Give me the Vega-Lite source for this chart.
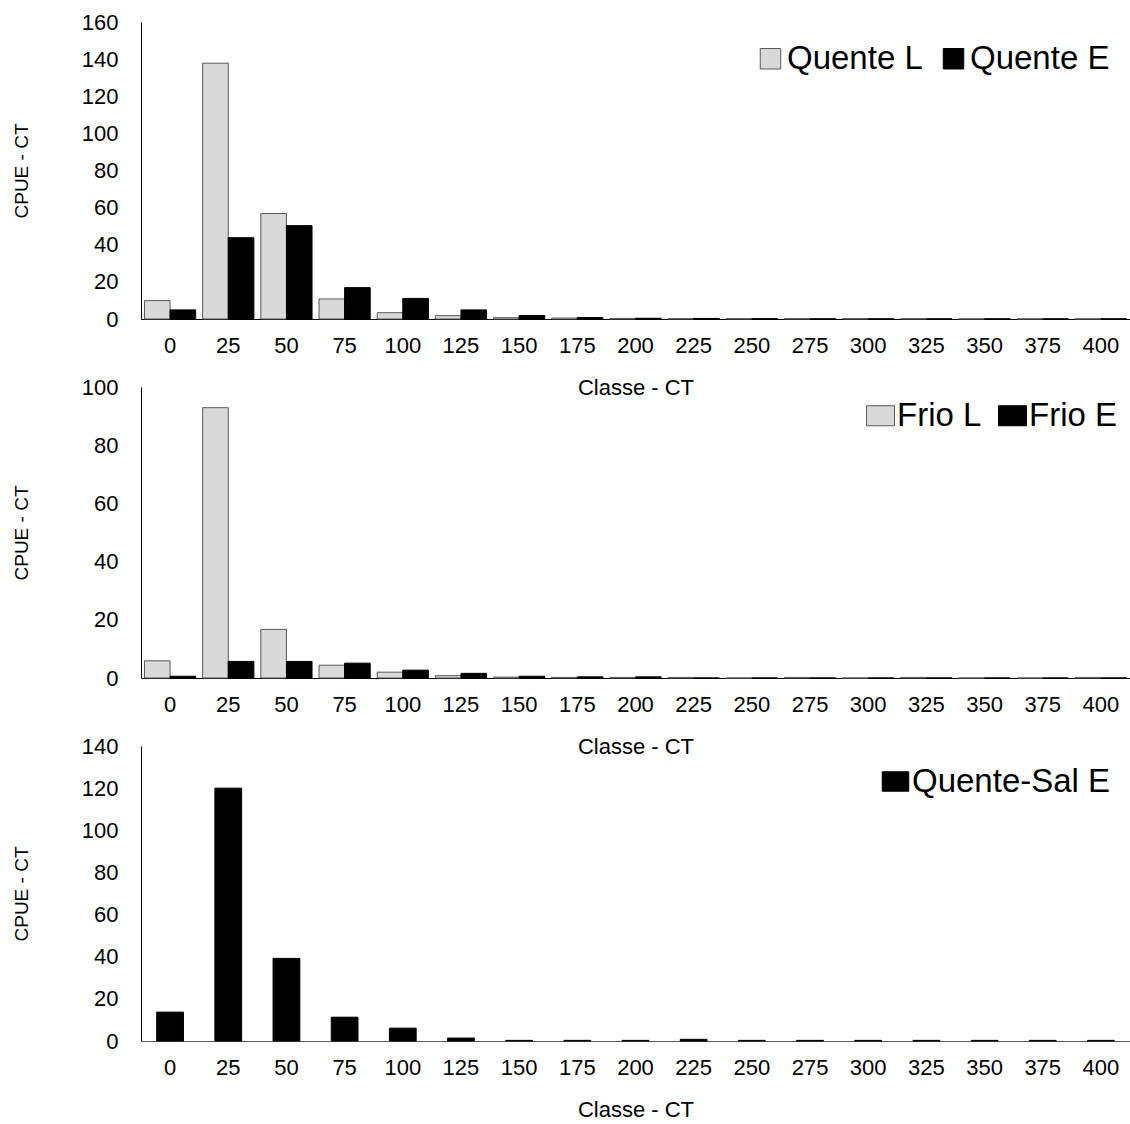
{
  "$schema": "https://vega.github.io/schema/vega-lite/v6.json",
  "background": "white",
  "padding": {"left": 12, "top": 11, "right": 0, "bottom": 0},
  "datasets": {
    "cpue": [
      {"painel": "Quente", "classe": 0, "serie": "Quente L", "cpue": 9.9},
      {"painel": "Quente", "classe": 0, "serie": "Quente E", "cpue": 4.9},
      {"painel": "Quente", "classe": 25, "serie": "Quente L", "cpue": 137.8},
      {"painel": "Quente", "classe": 25, "serie": "Quente E", "cpue": 43.8},
      {"painel": "Quente", "classe": 50, "serie": "Quente L", "cpue": 56.8},
      {"painel": "Quente", "classe": 50, "serie": "Quente E", "cpue": 50.3},
      {"painel": "Quente", "classe": 75, "serie": "Quente L", "cpue": 10.8},
      {"painel": "Quente", "classe": 75, "serie": "Quente E", "cpue": 16.9},
      {"painel": "Quente", "classe": 100, "serie": "Quente L", "cpue": 3.4},
      {"painel": "Quente", "classe": 100, "serie": "Quente E", "cpue": 11.1},
      {"painel": "Quente", "classe": 125, "serie": "Quente L", "cpue": 1.8},
      {"painel": "Quente", "classe": 125, "serie": "Quente E", "cpue": 4.9},
      {"painel": "Quente", "classe": 150, "serie": "Quente L", "cpue": 0.7},
      {"painel": "Quente", "classe": 150, "serie": "Quente E", "cpue": 1.9},
      {"painel": "Quente", "classe": 175, "serie": "Quente L", "cpue": 0.5},
      {"painel": "Quente", "classe": 175, "serie": "Quente E", "cpue": 0.8},
      {"painel": "Quente", "classe": 200, "serie": "Quente L", "cpue": 0.3},
      {"painel": "Quente", "classe": 200, "serie": "Quente E", "cpue": 0.4},
      {"painel": "Quente", "classe": 225, "serie": "Quente L", "cpue": 0.2},
      {"painel": "Quente", "classe": 225, "serie": "Quente E", "cpue": 0.3},
      {"painel": "Quente", "classe": 250, "serie": "Quente L", "cpue": 0.2},
      {"painel": "Quente", "classe": 250, "serie": "Quente E", "cpue": 0.2},
      {"painel": "Quente", "classe": 275, "serie": "Quente L", "cpue": 0.2},
      {"painel": "Quente", "classe": 275, "serie": "Quente E", "cpue": 0.1},
      {"painel": "Quente", "classe": 300, "serie": "Quente L", "cpue": 0.2},
      {"painel": "Quente", "classe": 300, "serie": "Quente E", "cpue": 0.1},
      {"painel": "Quente", "classe": 325, "serie": "Quente L", "cpue": 0.2},
      {"painel": "Quente", "classe": 325, "serie": "Quente E", "cpue": 0.1},
      {"painel": "Quente", "classe": 350, "serie": "Quente L", "cpue": 0.1},
      {"painel": "Quente", "classe": 350, "serie": "Quente E", "cpue": 0.1},
      {"painel": "Quente", "classe": 375, "serie": "Quente L", "cpue": 0.1},
      {"painel": "Quente", "classe": 375, "serie": "Quente E", "cpue": 0.1},
      {"painel": "Quente", "classe": 400, "serie": "Quente L", "cpue": 0.1},
      {"painel": "Quente", "classe": 400, "serie": "Quente E", "cpue": 0.1},

      {"painel": "Frio", "classe": 0, "serie": "Frio L", "cpue": 5.9},
      {"painel": "Frio", "classe": 0, "serie": "Frio E", "cpue": 0.6},
      {"painel": "Frio", "classe": 25, "serie": "Frio L", "cpue": 92.9},
      {"painel": "Frio", "classe": 25, "serie": "Frio E", "cpue": 5.7},
      {"painel": "Frio", "classe": 50, "serie": "Frio L", "cpue": 16.7},
      {"painel": "Frio", "classe": 50, "serie": "Frio E", "cpue": 5.7},
      {"painel": "Frio", "classe": 75, "serie": "Frio L", "cpue": 4.4},
      {"painel": "Frio", "classe": 75, "serie": "Frio E", "cpue": 5.1},
      {"painel": "Frio", "classe": 100, "serie": "Frio L", "cpue": 2.0},
      {"painel": "Frio", "classe": 100, "serie": "Frio E", "cpue": 2.7},
      {"painel": "Frio", "classe": 125, "serie": "Frio L", "cpue": 0.8},
      {"painel": "Frio", "classe": 125, "serie": "Frio E", "cpue": 1.6},
      {"painel": "Frio", "classe": 150, "serie": "Frio L", "cpue": 0.3},
      {"painel": "Frio", "classe": 150, "serie": "Frio E", "cpue": 0.6},
      {"painel": "Frio", "classe": 175, "serie": "Frio L", "cpue": 0.2},
      {"painel": "Frio", "classe": 175, "serie": "Frio E", "cpue": 0.4},
      {"painel": "Frio", "classe": 200, "serie": "Frio L", "cpue": 0.2},
      {"painel": "Frio", "classe": 200, "serie": "Frio E", "cpue": 0.4},
      {"painel": "Frio", "classe": 225, "serie": "Frio L", "cpue": 0.2},
      {"painel": "Frio", "classe": 225, "serie": "Frio E", "cpue": 0.0},
      {"painel": "Frio", "classe": 250, "serie": "Frio L", "cpue": 0.0},
      {"painel": "Frio", "classe": 250, "serie": "Frio E", "cpue": 0.0},
      {"painel": "Frio", "classe": 275, "serie": "Frio L", "cpue": 0.2},
      {"painel": "Frio", "classe": 275, "serie": "Frio E", "cpue": 0.0},
      {"painel": "Frio", "classe": 300, "serie": "Frio L", "cpue": 0.0},
      {"painel": "Frio", "classe": 300, "serie": "Frio E", "cpue": 0.0},
      {"painel": "Frio", "classe": 325, "serie": "Frio L", "cpue": 0.2},
      {"painel": "Frio", "classe": 325, "serie": "Frio E", "cpue": 0.0},
      {"painel": "Frio", "classe": 350, "serie": "Frio L", "cpue": 0.0},
      {"painel": "Frio", "classe": 350, "serie": "Frio E", "cpue": 0.0},
      {"painel": "Frio", "classe": 375, "serie": "Frio L", "cpue": 0.0},
      {"painel": "Frio", "classe": 375, "serie": "Frio E", "cpue": 0.0},
      {"painel": "Frio", "classe": 400, "serie": "Frio L", "cpue": 0.2},
      {"painel": "Frio", "classe": 400, "serie": "Frio E", "cpue": 0.0},

      {"painel": "Sal", "classe": 0, "serie": "Quente-Sal E", "cpue": 13.7},
      {"painel": "Sal", "classe": 25, "serie": "Quente-Sal E", "cpue": 120.0},
      {"painel": "Sal", "classe": 50, "serie": "Quente-Sal E", "cpue": 39.2},
      {"painel": "Sal", "classe": 75, "serie": "Quente-Sal E", "cpue": 11.3},
      {"painel": "Sal", "classe": 100, "serie": "Quente-Sal E", "cpue": 6.1},
      {"painel": "Sal", "classe": 125, "serie": "Quente-Sal E", "cpue": 1.4},
      {"painel": "Sal", "classe": 150, "serie": "Quente-Sal E", "cpue": 0.3},
      {"painel": "Sal", "classe": 175, "serie": "Quente-Sal E", "cpue": 0.3},
      {"painel": "Sal", "classe": 200, "serie": "Quente-Sal E", "cpue": 0.3},
      {"painel": "Sal", "classe": 225, "serie": "Quente-Sal E", "cpue": 0.8},
      {"painel": "Sal", "classe": 250, "serie": "Quente-Sal E", "cpue": 0.3},
      {"painel": "Sal", "classe": 275, "serie": "Quente-Sal E", "cpue": 0.3},
      {"painel": "Sal", "classe": 300, "serie": "Quente-Sal E", "cpue": 0.3},
      {"painel": "Sal", "classe": 325, "serie": "Quente-Sal E", "cpue": 0.3},
      {"painel": "Sal", "classe": 350, "serie": "Quente-Sal E", "cpue": 0.3},
      {"painel": "Sal", "classe": 375, "serie": "Quente-Sal E", "cpue": 0.3},
      {"painel": "Sal", "classe": 400, "serie": "Quente-Sal E", "cpue": 0.3}
    ]
  },
  "data": {"name": "cpue"},
  "bounds": "flush",
  "spacing": 68,
  "resolve": {
    "scale": {"x": "independent", "xOffset": "independent", "y": "independent", "fill": "independent", "stroke": "independent"},
    "legend": {"fill": "independent", "stroke": "independent"}
  },
  "vconcat": [
    {
      "width": 989,
      "height": 297,
      "transform": [{"filter": "datum.painel == 'Quente'"}],
      "mark": {"type": "bar", "strokeWidth": 1},
      "encoding": {
        "x": {
          "field": "classe", "type": "ordinal", "title": "Classe - CT",
          "scale": {"paddingInner": 0.12, "paddingOuter": 0.06}
        },
        "xOffset": {"field": "serie", "type": "nominal", "sort": ["Quente L", "Quente E"]},
        "y": {
          "field": "cpue", "type": "quantitative", "title": "CPUE - CT",
          "scale": {"domain": [0, 160], "nice": false},
          "axis": {"values": [0, 20, 40, 60, 80, 100, 120, 140, 160]}
        },
        "fill": {
          "field": "serie", "type": "nominal",
          "scale": {"domain": ["Quente L", "Quente E"], "range": ["#d9d9d9", "#000000"]},
          "legend": {"title": null, "offset": 20}
        },
        "stroke": {
          "field": "serie", "type": "nominal",
          "scale": {"domain": ["Quente L", "Quente E"], "range": ["#595959", "#000000"]},
          "legend": {"title": null, "offset": 20}
        }
      }
    },
    {
      "width": 989,
      "height": 291,
      "transform": [{"filter": "datum.painel == 'Frio'"}],
      "mark": {"type": "bar", "strokeWidth": 1},
      "encoding": {
        "x": {
          "field": "classe", "type": "ordinal", "title": "Classe - CT",
          "scale": {"paddingInner": 0.12, "paddingOuter": 0.06}
        },
        "xOffset": {"field": "serie", "type": "nominal", "sort": ["Frio L", "Frio E"]},
        "y": {
          "field": "cpue", "type": "quantitative", "title": "CPUE - CT",
          "scale": {"domain": [0, 100], "nice": false},
          "axis": {"values": [0, 20, 40, 60, 80, 100]}
        },
        "fill": {
          "field": "serie", "type": "nominal",
          "scale": {"domain": ["Frio L", "Frio E"], "range": ["#d9d9d9", "#000000"]},
          "legend": {"title": null, "offset": 12, "symbolType": "M-1.4,-1H1.4V1H-1.4Z", "symbolSize": 400}
        },
        "stroke": {
          "field": "serie", "type": "nominal",
          "scale": {"domain": ["Frio L", "Frio E"], "range": ["#595959", "#000000"]},
          "legend": {"title": null, "offset": 12, "symbolType": "M-1.4,-1H1.4V1H-1.4Z", "symbolSize": 400}
        }
      }
    },
    {
      "width": 989,
      "height": 295,
      "transform": [{"filter": "datum.painel == 'Sal'"}],
      "mark": {"type": "bar", "strokeWidth": 1},
      "encoding": {
        "x": {
          "field": "classe", "type": "ordinal", "title": "Classe - CT",
          "scale": {"paddingInner": 0.54, "paddingOuter": 0.27},
          "axis": {"domainColor": "#595959"}
        },
        "y": {
          "field": "cpue", "type": "quantitative", "title": "CPUE - CT",
          "scale": {"domain": [0, 140], "nice": false},
          "axis": {"values": [0, 20, 40, 60, 80, 100, 120, 140]}
        },
        "fill": {
          "field": "serie", "type": "nominal",
          "scale": {"domain": ["Quente-Sal E"], "range": ["#000000"]},
          "legend": {"title": null, "offset": 19, "symbolType": "M-1.36,-1H1.36V1H-1.36Z", "symbolSize": 380}
        },
        "stroke": {
          "field": "serie", "type": "nominal",
          "scale": {"domain": ["Quente-Sal E"], "range": ["#000000"]},
          "legend": {"title": null, "offset": 19, "symbolType": "M-1.36,-1H1.36V1H-1.36Z", "symbolSize": 380}
        }
      }
    }
  ],
  "config": {
    "view": {"stroke": null},
    "font": "Liberation Sans",
    "axis": {
      "grid": false,
      "ticks": false,
      "domainColor": "#000000",
      "domainWidth": 1,
      "labelFont": "Liberation Sans",
      "labelFontSize": 22,
      "labelColor": "#000000",
      "titleFont": "Liberation Sans",
      "titleFontWeight": "normal",
      "titleColor": "#000000"
    },
    "axisX": {"labelAngle": 0, "labelPadding": 16, "titlePadding": 21, "titleFontSize": 22},
    "axisY": {"labelPadding": 23, "titlePadding": 50, "titleFontSize": 19},
    "legend": {
      "orient": "top-right",
      "direction": "horizontal",
      "labelFont": "Liberation Sans",
      "labelFontSize": 33,
      "labelLimit": 0,
      "labelColor": "#000000",
      "labelOffset": 0,
      "columnPadding": 14,
      "symbolType": "square",
      "symbolSize": 420,
      "symbolStrokeWidth": 1
    }
  }
}
